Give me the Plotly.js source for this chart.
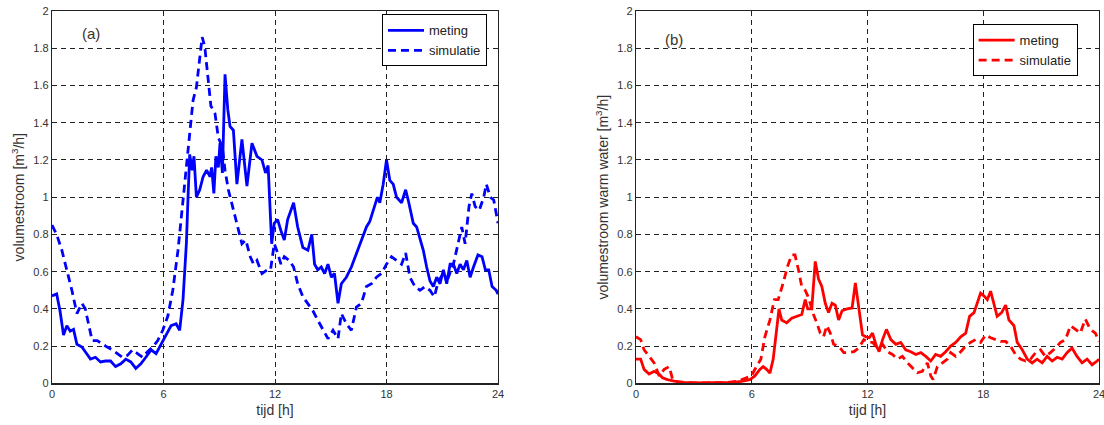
<!DOCTYPE html>
<html>
<head>
<meta charset="utf-8">
<script src="https://cdn.plot.ly/plotly-3.0.1.min.js"></script>
<style>html,body{margin:0;padding:0;background:#fff;}#chart{width:1104px;height:425px;}</style>
</head>
<body>
<div id="chart"></div>
<script>
// ---- data (hours, m3/h) ----
var xTicks = [0, 6, 12, 18, 24];

var hoursMetingA = [0,0.25,0.43,0.62,0.8,0.98,1.16,1.34,1.61,1.88,2.07,2.34,2.61,2.88,3.15,3.42,3.7,3.97,4.24,4.51,4.78,5.05,5.33,5.6,5.87,6.14,6.41,6.68,6.87,7.05,7.23,7.32,7.41,7.54,7.64,7.77,7.95,8.13,8.32,8.5,8.59,8.71,8.82,8.95,9.04,9.17,9.31,9.46,9.58,9.76,9.95,10.22,10.49,10.76,11.03,11.3,11.49,11.63,11.82,11.96,12.14,12.32,12.5,12.68,13.0,13.22,13.5,13.77,13.98,14.13,14.3,14.49,14.67,14.85,15.03,15.2,15.39,15.57,15.84,16.11,16.38,16.65,16.92,17.1,17.28,17.51,17.64,17.82,18.0,18.18,18.36,18.54,18.81,19.03,19.2,19.44,19.62,19.8,19.98,20.16,20.34,20.52,20.7,20.88,21.06,21.24,21.42,21.6,21.78,21.96,22.14,22.32,22.5,22.68,22.92,23.14,23.32,23.5,23.68,23.9,24];
var metingA = [0.47,0.48,0.39,0.26,0.31,0.28,0.29,0.21,0.195,0.16,0.13,0.14,0.115,0.12,0.12,0.09,0.105,0.13,0.115,0.08,0.105,0.14,0.18,0.16,0.21,0.26,0.31,0.32,0.285,0.45,0.75,1.0,1.23,1.145,1.22,1.0,1.04,1.11,1.145,1.11,1.16,1.02,1.22,1.16,1.29,1.13,1.66,1.47,1.38,1.36,1.07,1.31,1.06,1.29,1.22,1.2,1.13,1.17,0.75,0.86,0.88,0.82,0.77,0.88,0.97,0.84,0.73,0.715,0.80,0.64,0.61,0.625,0.59,0.64,0.57,0.59,0.43,0.535,0.57,0.625,0.70,0.77,0.84,0.87,0.93,1.0,0.97,1.07,1.2,1.09,1.07,1.0,0.97,1.04,0.97,0.86,0.84,0.77,0.715,0.625,0.55,0.52,0.57,0.535,0.61,0.535,0.64,0.64,0.59,0.64,0.61,0.66,0.57,0.625,0.69,0.68,0.61,0.61,0.52,0.50,0.48];

var hoursSimA = [0,0.25,0.53,0.8,1.07,1.34,1.61,1.79,1.97,2.16,2.43,2.7,2.97,3.24,3.51,3.79,4.06,4.33,4.6,4.87,5.14,5.42,5.69,5.96,6.23,6.5,6.78,7.05,7.32,7.59,7.77,7.95,8.08,8.22,8.37,8.55,8.77,8.95,9.17,9.31,9.49,9.67,9.86,10.04,10.22,10.43,10.67,10.85,11.03,11.3,11.58,11.76,11.96,12.14,12.32,12.5,12.77,13.0,13.22,13.5,13.77,14.04,14.3,14.58,14.85,15.12,15.39,15.57,15.84,16.11,16.38,16.65,16.92,17.19,17.46,17.73,18.0,18.27,18.54,18.81,19.03,19.26,19.53,19.8,20.07,20.34,20.57,20.79,21.06,21.33,21.6,21.87,22.05,22.23,22.44,22.59,22.77,22.99,23.23,23.37,23.59,23.77,23.95,24];
var simA = [0.85,0.80,0.715,0.61,0.5,0.375,0.43,0.40,0.32,0.23,0.23,0.21,0.195,0.18,0.16,0.14,0.15,0.18,0.16,0.14,0.17,0.195,0.23,0.285,0.36,0.5,0.715,0.98,1.25,1.52,1.59,1.77,1.86,1.81,1.65,1.49,1.45,1.32,1.27,1.145,1.04,0.97,0.89,0.82,0.75,0.77,0.68,0.64,0.66,0.59,0.61,0.61,0.75,0.70,0.64,0.68,0.66,0.625,0.535,0.465,0.43,0.39,0.34,0.285,0.24,0.285,0.24,0.375,0.32,0.285,0.41,0.43,0.52,0.535,0.57,0.59,0.64,0.68,0.66,0.64,0.70,0.57,0.52,0.50,0.52,0.50,0.465,0.55,0.59,0.57,0.64,0.75,0.84,0.75,0.95,1.02,0.95,0.93,1.0,1.07,1.0,0.985,0.895,0.86];

var hoursMetingB = [0,0.24,0.42,0.68,0.94,1.2,1.37,1.63,1.98,2.5,3.0,3.5,4.0,4.5,5.0,5.46,5.9,6.16,6.42,6.59,6.77,6.94,7.11,7.29,7.41,7.55,7.81,8.07,8.33,8.59,8.77,8.9,9.11,9.29,9.46,9.63,9.81,9.98,10.16,10.33,10.5,10.68,10.94,11.2,11.37,11.55,11.74,11.91,12.09,12.26,12.43,12.6,12.78,12.98,13.21,13.47,13.72,13.98,14.24,14.5,14.76,15.02,15.28,15.53,15.79,16.05,16.31,16.57,16.83,17.09,17.29,17.52,17.69,17.86,18.03,18.21,18.38,18.55,18.72,18.95,19.16,19.33,19.59,19.76,20.02,20.28,20.53,20.79,21.05,21.31,21.57,21.83,22.09,22.34,22.6,22.86,23.12,23.38,23.64,23.9,24];
var metingB = [0.13,0.13,0.075,0.05,0.065,0.05,0.03,0.02,0.012,0.005,0.003,0.004,0.003,0.004,0.005,0.01,0.02,0.04,0.075,0.09,0.075,0.055,0.13,0.29,0.40,0.34,0.325,0.35,0.36,0.37,0.45,0.40,0.40,0.655,0.56,0.52,0.43,0.38,0.43,0.42,0.34,0.39,0.40,0.405,0.54,0.415,0.26,0.25,0.245,0.27,0.21,0.17,0.235,0.29,0.235,0.21,0.22,0.18,0.17,0.155,0.165,0.145,0.12,0.155,0.145,0.17,0.20,0.22,0.25,0.27,0.36,0.38,0.43,0.485,0.47,0.45,0.495,0.43,0.36,0.38,0.42,0.34,0.31,0.22,0.18,0.13,0.11,0.13,0.11,0.145,0.12,0.14,0.13,0.165,0.19,0.145,0.11,0.13,0.10,0.12,0.13];

var hoursSimB = [0,0.24,0.42,0.68,0.94,1.2,1.46,1.72,1.9,2.16,2.7,3.2,3.7,4.2,4.7,5.29,5.63,5.98,6.24,6.47,6.68,6.94,7.17,7.37,7.63,7.86,8.07,8.24,8.42,8.59,8.77,8.9,9.03,9.2,9.37,9.55,9.72,9.89,10.07,10.24,10.5,10.77,11.03,11.29,11.55,11.81,12.07,12.26,12.52,12.78,13.03,13.29,13.55,13.81,14.07,14.33,14.59,14.84,15.1,15.28,15.4,15.62,15.88,16.14,16.31,16.57,16.83,17.09,17.34,17.6,17.86,18.12,18.38,18.64,18.9,19.16,19.41,19.67,19.93,20.19,20.45,20.71,20.97,21.22,21.48,21.74,22.0,22.26,22.52,22.78,23.03,23.29,23.55,23.81,24];
var simB = [0.25,0.235,0.18,0.145,0.11,0.04,0.075,0.09,0.02,0.007,0.003,0.002,0.003,0.002,0.004,0.012,0.025,0.04,0.09,0.13,0.25,0.34,0.45,0.45,0.54,0.63,0.69,0.69,0.61,0.52,0.50,0.47,0.43,0.37,0.325,0.27,0.25,0.31,0.27,0.21,0.20,0.165,0.165,0.17,0.19,0.235,0.22,0.22,0.19,0.21,0.17,0.155,0.13,0.145,0.11,0.085,0.057,0.065,0.11,0.04,0.02,0.09,0.11,0.13,0.165,0.145,0.17,0.20,0.22,0.235,0.22,0.26,0.245,0.235,0.225,0.225,0.20,0.155,0.13,0.12,0.13,0.165,0.18,0.145,0.165,0.19,0.22,0.235,0.31,0.29,0.27,0.345,0.29,0.27,0.225];

var seriesNames = ['meting', 'simulatie'];

// ---- styling ----
var FONT = 'Liberation Sans, Arial, Helvetica, sans-serif';
var INK = '#333333';
function xAx(dom, anchor) {
  return {
    domain: dom, anchor: anchor, range: [0, 24], tickvals: xTicks,
    showgrid: true, gridcolor: '#222', griddash: '5px,4px', gridwidth: 1,
    showline: true, linecolor: '#222', linewidth: 1.2, mirror: 'ticks',
    ticks: 'inside', ticklen: 4, tickcolor: '#222', zeroline: false,
    ticklabeloverflow: 'allow',
    tickfont: {family: FONT, size: 11, color: INK}, automargin: false,
    title: {text: 'tijd [h]', font: {family: FONT, size: 14, color: INK}, standoff: 6}
  };
}
function yAx(dom, anchor, title) {
  return {
    domain: dom, anchor: anchor, range: [0, 2], dtick: 0.2, tick0: 0,
    showgrid: true, gridcolor: '#222', griddash: '5px,4px', gridwidth: 1,
    showline: true, linecolor: '#222', linewidth: 1.2, mirror: 'ticks',
    ticks: 'inside', ticklen: 4, tickcolor: '#222', zeroline: false,
    ticklabeloverflow: 'allow',
    tickfont: {family: FONT, size: 11, color: INK}, automargin: false,
    title: {text: title, font: {family: FONT, size: 14, color: INK}, standoff: 5}
  };
}

var blue = '#0000ff', red = '#ff0000';
var traces = [
  {x: hoursMetingA, y: metingA, name: seriesNames[0], mode: 'lines', xaxis: 'x', yaxis: 'y', legend: 'legend',
   line: {color: blue, width: 2.8}},
  {x: hoursSimA, y: simA, name: seriesNames[1], mode: 'lines', xaxis: 'x', yaxis: 'y', legend: 'legend',
   line: {color: blue, width: 2.8, dash: '8px,5px'}},
  {x: hoursMetingB, y: metingB, name: seriesNames[0], mode: 'lines', xaxis: 'x2', yaxis: 'y2', legend: 'legend2',
   line: {color: red, width: 2.8}},
  {x: hoursSimB, y: simB, name: seriesNames[1], mode: 'lines', xaxis: 'x2', yaxis: 'y2', legend: 'legend2',
   line: {color: red, width: 2.8, dash: '8px,5px'}}
];

var yDom = [0.098, 0.974];
var legendStyle = function (x, y) {
  return {x: x, y: y, xanchor: 'left', yanchor: 'top', bgcolor: '#fff', bordercolor: '#000', borderwidth: 1,
    font: {family: FONT, size: 13, color: '#222'}, tracegroupgap: 0, itemwidth: 36};
};

var layout = {
  width: 1104, height: 425, autosize: false,
  margin: {l: 0, r: 0, t: 0, b: 0},
  paper_bgcolor: '#fff', plot_bgcolor: '#fff',
  font: {family: FONT, color: INK},
  xaxis: xAx([0.0471, 0.4511], 'y'),
  yaxis: yAx(yDom, 'x', 'volumestroom [m<sup>3</sup>/h]'),
  xaxis2: xAx([0.5761, 0.9955], 'y2'),
  yaxis2: yAx(yDom, 'x2', 'volumestroom warm water [m<sup>3</sup>/h]'),
  showlegend: true,
  legend: legendStyle(0.346, 0.966),
  legend2: legendStyle(0.881, 0.943),
  annotations: [
    {text: '(a)', xref: 'paper', yref: 'paper', x: 0.0824, y: 0.922, xanchor: 'center', yanchor: 'middle',
     showarrow: false, font: {family: FONT, size: 15, color: '#3a3328'}},
    {text: '(b)', xref: 'paper', yref: 'paper', x: 0.6105, y: 0.906, xanchor: 'center', yanchor: 'middle',
     showarrow: false, font: {family: FONT, size: 15, color: '#3a3328'}}
  ]
};

Plotly.newPlot('chart', traces, layout, {displayModeBar: false, staticPlot: true});
</script>
</body>
</html>
